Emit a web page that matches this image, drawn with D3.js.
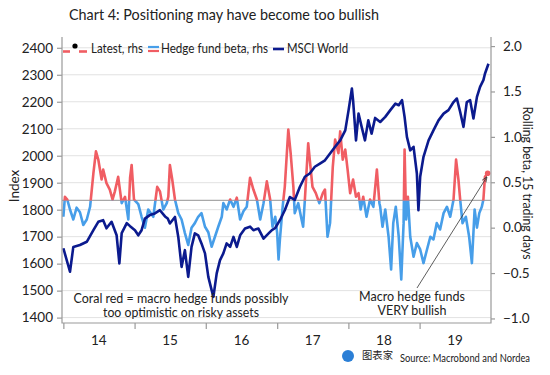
<!DOCTYPE html>
<html>
<head>
<meta charset="utf-8">
<script src="https://cdn.jsdelivr.net/npm/d3@7"></script>
<style>
  body { margin: 0; background: #fff; }
  text { font-family: Lato, "Noto Sans", sans-serif; fill: #222; }
</style>
</head>
<body>
<svg id="chart" width="550" height="375"></svg>
<script>
// MSCI World (lhs)
var msciDates = ["2014-01-01","2014-02-04","2014-02-21","2014-03-27","2014-05-01","2014-06-04","2014-06-29","2014-07-24","2014-08-10","2014-09-05","2014-10-01","2014-10-15","2014-10-27","2014-11-22","2014-12-09",
  "2015-01-03","2015-01-20","2015-02-06","2015-02-23","2015-03-20","2015-04-15","2015-05-11","2015-06-06","2015-06-20","2015-07-01","2015-07-27","2015-08-13","2015-08-30","2015-09-16","2015-10-03","2015-10-20","2015-11-06","2015-11-23","2015-12-10","2015-12-28",
  "2016-01-14","2016-01-31","2016-02-09","2016-02-26","2016-03-14","2016-03-31","2016-04-17","2016-05-05","2016-05-22","2016-06-08","2016-06-25","2016-07-20","2016-08-15","2016-09-01","2016-09-27","2016-10-23","2016-11-18","2016-12-05","2016-12-22",
  "2017-01-15","2017-02-09","2017-03-07","2017-04-01","2017-04-27","2017-05-23","2017-06-17","2017-07-13","2017-08-08","2017-09-03","2017-09-29","2017-10-25","2017-11-20","2017-12-16",
  "2018-01-02","2018-01-19","2018-01-25","2018-02-09","2018-02-22","2018-03-10","2018-03-27","2018-04-13","2018-04-30","2018-05-18","2018-06-13","2018-07-09","2018-08-04","2018-08-30","2018-09-16","2018-10-03","2018-10-16","2018-10-28","2018-11-14","2018-12-01","2018-12-18","2018-12-26",
  "2019-01-04","2019-01-21","2019-02-16","2019-03-13","2019-04-08","2019-05-04","2019-05-29","2019-06-24","2019-07-11","2019-07-28","2019-08-14","2019-08-31","2019-09-17","2019-10-04","2019-10-22","2019-11-07","2019-11-24","2019-12-02","2019-12-20"];
var msciValues = [1657,1570,1662,1669,1681,1724,1755,1761,1731,1755,1705,1601,1713,1750,1739,
  1724,1705,1724,1767,1780,1786,1798,1775,1767,1749,1773,1699,1588,1650,1551,1662,1712,1705,1675,1638,
  1551,1502,1477,1564,1613,1638,1675,1662,1699,1662,1705,1730,1737,1724,1730,1693,1712,1724,1732,
  1761,1798,1847,1836,1884,1922,1934,1959,1971,1983,2008,2033,2057,2094,
  2169,2249,2206,2057,2156,2107,2057,2131,2082,2140,2125,2144,2169,2193,2187,2206,2144,2070,2020,2033,1934,1798,
  1922,1996,2057,2094,2131,2156,2169,2199,2212,2162,2107,2199,2206,2138,2218,2255,2280,2304,2341];

// Hedge fund beta (rhs)
var betaDates = ["2014-01-01","2014-01-09","2014-01-21","2014-02-04","2014-02-21","2014-03-10","2014-03-27","2014-04-13","2014-05-01","2014-05-18","2014-06-04","2014-06-17","2014-06-29","2014-07-16","2014-07-24","2014-08-10","2014-08-27","2014-09-10","2014-09-22","2014-10-09","2014-10-27","2014-11-13","2014-11-30","2014-12-09","2014-12-17","2014-12-29",
  "2015-01-20","2015-02-06","2015-02-23","2015-03-12","2015-04-07","2015-04-27","2015-05-11","2015-05-28","2015-06-15","2015-06-23","2015-07-01","2015-07-13","2015-07-27","2015-08-13","2015-08-30","2015-09-16","2015-10-03","2015-10-20","2015-11-06","2015-11-23","2015-12-10","2015-12-28",
  "2016-01-14","2016-01-31","2016-02-17","2016-03-05","2016-03-23","2016-03-31","2016-04-17","2016-05-05","2016-05-22","2016-06-08","2016-06-25","2016-07-12","2016-07-29","2016-08-15","2016-09-01","2016-09-19","2016-10-06","2016-10-23","2016-11-09","2016-11-26","2016-12-08","2016-12-22",
  "2017-01-01","2017-01-08","2017-01-15","2017-01-29","2017-02-09","2017-02-27","2017-03-11","2017-03-25","2017-04-01","2017-04-19","2017-05-06","2017-05-14","2017-05-23","2017-06-09","2017-06-17","2017-07-01","2017-07-18","2017-08-05","2017-08-23","2017-09-03","2017-09-16","2017-09-29","2017-10-13","2017-10-25","2017-11-11","2017-11-20","2017-12-03","2017-12-16","2017-12-28",
  "2018-01-10","2018-01-25","2018-02-09","2018-02-22","2018-03-05","2018-03-18","2018-04-04","2018-04-22","2018-05-09","2018-05-27","2018-06-09","2018-06-13","2018-06-25","2018-07-09","2018-07-26","2018-08-08","2018-08-19","2018-09-01","2018-09-16","2018-09-29","2018-10-11","2018-10-16","2018-10-24","2018-11-02","2018-11-14","2018-12-01","2018-12-18",
  "2019-01-04","2019-01-21","2019-02-08","2019-02-25","2019-03-13","2019-03-30","2019-04-16","2019-05-04","2019-05-21","2019-06-07","2019-06-24","2019-07-07","2019-07-19","2019-07-28","2019-08-09","2019-08-26","2019-09-12","2019-09-26","2019-10-10","2019-10-22","2019-11-03","2019-11-16","2019-11-24","2019-12-02","2019-12-16"];
var betaValues = [0.12,0.34,0.31,0.20,0.09,0.22,0.17,0.03,0.09,0.23,0.60,0.84,0.75,0.53,0.64,0.49,0.42,0.31,0.40,0.56,0.27,0.34,0.09,0.55,0.69,0.31,
  0.26,0.12,0.00,0.20,0.12,0.45,0.40,0.20,0.27,0.34,0.69,0.53,0.31,0.16,0.09,-0.06,-0.19,0.00,0.05,0.12,0.16,0.01,
  -0.05,-0.21,-0.10,0.01,0.12,0.27,0.20,0.31,0.23,0.33,0.09,0.18,0.23,0.55,0.42,0.31,0.09,0.27,0.51,0.31,0.01,0.12,
  -0.06,-0.35,-0.13,0.23,0.45,1.08,0.82,0.45,0.16,0.27,0.09,0.01,0.31,0.93,0.75,0.45,0.38,0.27,0.38,0.42,-0.10,0.05,0.67,0.97,0.82,1.06,0.75,0.86,0.64,
  0.38,0.53,0.34,0.38,0.20,0.34,0.12,0.31,0.23,0.64,0.27,0.23,0.01,0.20,-0.10,-0.46,0.05,0.23,-0.10,-0.57,0.05,0.86,0.09,0.34,-0.10,-0.32,-0.17,
  -0.24,-0.39,-0.24,-0.10,-0.13,0.05,-0.02,0.16,0.23,0.12,0.31,0.75,0.53,0.31,0.05,0.12,-0.10,-0.39,0.20,0.00,0.16,0.23,0.31,0.56,0.60];

var latestDates = ["2019-12-16"];
var latestValues = [0.60];
var bullishLevel = 0.3;

var leftTicks = [1400,1500,1600,1700,1800,1900,2000,2100,2200,2300,2400];
var rightTicks = [-1.0,-0.5,0.0,0.5,1.0,1.5,2.0];
var yearTicks = ["2014","2015","2016","2017","2018","2019"];
var yearLabels = ["14","15","16","17","18","19"];

var navy = "#0b1a8e", lightBlue = "#479ee9", coral = "#f05d63", axisGrey = "#9a9a9a";
var plotL = 62, plotR = 491, plotT = 37, plotB = 323;

var parse = d3.timeParse("%Y-%m-%d");
var msci = msciDates.map(function(d,i){ return {date: parse(d), v: msciValues[i]}; });
var beta = betaDates.map(function(d,i){ return {date: parse(d), v: betaValues[i]}; });
var latest = latestDates.map(function(d,i){ return {date: parse(d), v: latestValues[i]}; });

// squeeze a label to the width it has in the original
function fit(sel, w){
  return sel.attr("textLength", w).attr("lengthAdjust","spacingAndGlyphs");
}

var svg = d3.select("#chart");
svg.append("rect").attr("width",550).attr("height",375).attr("fill","#fff");

var x = d3.scaleTime()
    .domain([parse("2013-12-25"), parse("2020-01-02")])
    .range([plotL, plotR]);
var yL = d3.scaleLinear().domain([1380, 2440]).range([plotB, plotT]);
var yR = d3.scaleLinear().domain([-1.05, 2.1]).range([plotB, plotT]);

// title
fit(svg.append("text").attr("x",69).attr("y",20)
    .style("font-size","16px").text("Chart 4: Positioning may have become too bullish"), 310);

// grid
svg.append("g").selectAll("line").data(leftTicks).join("line")
    .attr("x1",plotL).attr("x2",plotR)
    .attr("y1",function(d){return yL(d);}).attr("y2",function(d){return yL(d);})
    .attr("stroke","#e2e2e2").attr("stroke-width",1);

// threshold for "too bullish"
svg.append("line")
    .attr("x1",plotL).attr("x2",plotR)
    .attr("y1",yR(bullishLevel)).attr("y2",yR(bullishLevel))
    .attr("stroke","#a8a8a8").attr("stroke-width",1.2);

// clip paths above / below threshold
var defs = svg.append("defs");
defs.append("clipPath").attr("id","above").append("rect")
    .attr("x",plotL).attr("y",0).attr("width",plotR-plotL).attr("height",yR(bullishLevel));
defs.append("clipPath").attr("id","below").append("rect")
    .attr("x",plotL).attr("y",yR(bullishLevel)).attr("width",plotR-plotL).attr("height",plotB-yR(bullishLevel));

var betaLine = d3.line().x(function(d){return x(d.date);}).y(function(d){return yR(d.v);});
var msciLine = d3.line().x(function(d){return x(d.date);}).y(function(d){return yL(d.v);});

svg.append("path").datum(beta).attr("d",betaLine)
    .attr("clip-path","url(#below)")
    .style("fill","none").style("stroke",lightBlue).style("stroke-width","2.6px").style("stroke-linejoin","round");
svg.append("path").datum(beta).attr("d",betaLine)
    .attr("clip-path","url(#above)")
    .style("fill","none").style("stroke",coral).style("stroke-width","2.6px").style("stroke-linejoin","round");

svg.append("path").datum(msci).attr("d",msciLine)
    .style("fill","none").style("stroke",navy).style("stroke-width","2.6px").style("stroke-linejoin","round");

svg.selectAll(".latest").data(latest).join("circle")
    .attr("class","latest")
    .attr("cx",function(d){return x(d.date);}).attr("cy",function(d){return yR(d.v);})
    .attr("r",2.8).attr("fill",coral);

// frame
svg.append("path")
    .attr("d","M"+plotL+","+plotT+"V"+plotB+"H"+plotR+"V"+plotT)
    .attr("fill","none").attr("stroke",axisGrey).attr("stroke-width",1.2);

// axes
var gL = svg.append("g").attr("transform","translate("+plotL+",0)")
    .call(d3.axisLeft(yL).tickValues(leftTicks).tickSize(5).tickPadding(4).tickFormat(d3.format("d")));
var gR = svg.append("g").attr("transform","translate("+plotR+",0)")
    .call(d3.axisRight(yR).tickValues(rightTicks).tickSize(4).tickPadding(8).tickFormat(d3.format(".1f")));
var gX = svg.append("g").attr("transform","translate(0,"+plotB+")")
    .call(d3.axisBottom(x).tickValues(yearTicks.map(function(d){return parse(d+"-01-01");})).tickSize(6).tickFormat(""));
[gL,gR,gX].forEach(function(g){
  g.select(".domain").remove();
  g.selectAll(".tick line").attr("stroke",axisGrey).attr("stroke-width",1.2);
  g.selectAll(".tick text").style("font-size","13.5px").style("font-family","Lato, sans-serif").attr("fill","#222");
});
gR.selectAll(".tick text").text(function(d){ return d3.format(".1f")(d).replace("-0.0","0.0"); });

// year labels centered mid-year
svg.append("g").selectAll("text").data(yearLabels).join("text")
    .attr("x",function(d,i){return x(parse(yearTicks[i]+"-07-02"));})
    .attr("y",345).attr("text-anchor","middle").style("font-size","13.5px")
    .text(function(d){return d;});

// axis titles
svg.append("text").attr("transform","translate(19,186) rotate(-90)")
    .attr("text-anchor","middle").style("font-size","13.5px").attr("fill","#444").text("Index");
fit(svg.append("text").attr("transform","translate(523,183) rotate(90)")
    .attr("text-anchor","middle").style("font-size","14px").text("Rolling beta, 15 trading days"), 153);

// legend
var lg = svg.append("g").attr("transform","translate(0,48)");
lg.append("line").attr("x1",63).attr("x2",70).attr("y1",3.5).attr("y2",3.5).attr("stroke",coral).attr("stroke-width",2.6);
lg.append("line").attr("x1",79).attr("x2",87).attr("y1",3.5).attr("y2",3.5).attr("stroke",coral).attr("stroke-width",2.6);
lg.append("circle").attr("cx",75).attr("cy",-2).attr("r",2.6).attr("fill","#000");
fit(lg.append("text").attr("x",91).attr("y",5).style("font-size","13.5px").text("Latest, rhs"), 52);
lg.append("line").attr("x1",148).attr("x2",159).attr("y1",-1).attr("y2",-1).attr("stroke",lightBlue).attr("stroke-width",2.2);
lg.append("line").attr("x1",148).attr("x2",159).attr("y1",3).attr("y2",3).attr("stroke",coral).attr("stroke-width",2.2);
fit(lg.append("text").attr("x",161).attr("y",5).style("font-size","13.5px").text("Hedge fund beta, rhs"), 107);
lg.append("line").attr("x1",273).attr("x2",284).attr("y1",1).attr("y2",1).attr("stroke",navy).attr("stroke-width",2.6);
fit(lg.append("text").attr("x",287).attr("y",5).style("font-size","13.5px").text("MSCI World"), 61);

// annotations
var note1 = ["Coral red = macro hedge funds possibly","too optimistic on risky assets"];
var note1W = [215, 156];
svg.append("g").selectAll("text").data(note1).join("text")
    .attr("x",181).attr("y",function(d,i){return 303+i*14;})
    .attr("text-anchor","middle").style("font-size","12.5px")
    .attr("textLength",function(d,i){return note1W[i];}).attr("lengthAdjust","spacingAndGlyphs")
    .text(function(d){return d;});

var note2 = ["Macro hedge funds","VERY bullish"];
var note2W = [106, 69];
svg.append("g").selectAll("text").data(note2).join("text")
    .attr("x",412).attr("y",function(d,i){return 301+i*14;})
    .attr("text-anchor","middle").style("font-size","12.5px")
    .attr("textLength",function(d,i){return note2W[i];}).attr("lengthAdjust","spacingAndGlyphs")
    .text(function(d){return d;});

defs.append("marker").attr("id","arrow").attr("viewBox","0 0 10 10")
    .attr("refX",9).attr("refY",5).attr("markerWidth",7).attr("markerHeight",7).attr("orient","auto")
    .append("path").attr("d","M0,1L10,5L0,9").attr("fill","none").attr("stroke","#333").attr("stroke-width",1.3);
svg.append("line")
    .attr("x1",417).attr("y1",288)
    .attr("x2",x(latest[0].date)-1).attr("y2",yR(latest[0].v)+4)
    .attr("stroke","#333").attr("stroke-width",0.8).attr("marker-end","url(#arrow)");

// source + logo
svg.append("circle").attr("cx",348).attr("cy",356).attr("r",6).attr("fill","#2b7fd6");
fit(svg.append("text").attr("x",362).attr("y",359).style("font-size","10px")
    .style("font-family","'Noto Sans CJK SC', sans-serif").attr("fill","#2b7fd6").text("图表家"), 31);
fit(svg.append("text").attr("x",400).attr("y",362)
    .style("font-size","10.5px").text("Source: Macrobond and Nordea"), 130);
</script>
</body>
</html>
